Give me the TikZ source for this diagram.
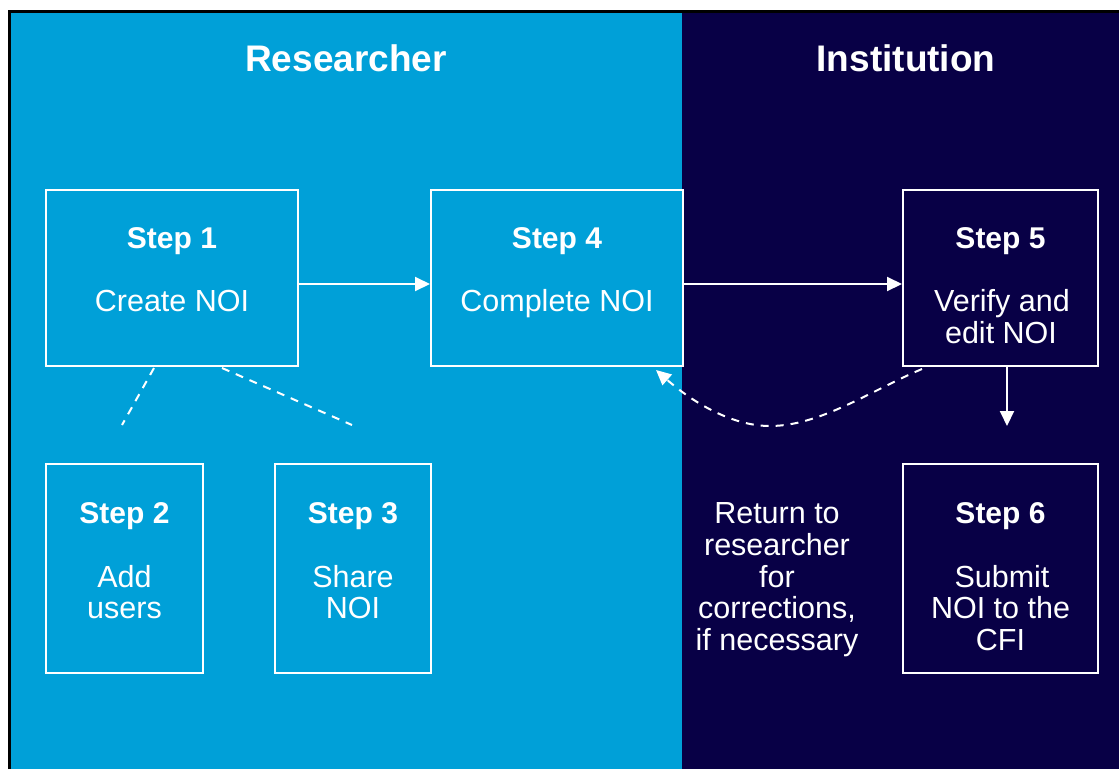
\documentclass[tikz,border=0pt]{standalone}
\usepackage{fontspec}
\setmainfont{Liberation Sans}
\usetikzlibrary{arrows.meta,calc}
\definecolor{resblue}{HTML}{00A0D8}
\definecolor{instnavy}{HTML}{080046}
\begin{document}
\begin{tikzpicture}[x=1pt,y=-1pt,
  box/.style={draw=white,line width=2pt,inner sep=0pt,rectangle},
  txt/.style={text=white,anchor=base,inner sep=0pt,font=\fontsize{30.5}{32}\selectfont},
  stp/.style={txt,font=\fontsize{30}{32}\selectfont\bfseries},
  ttl/.style={txt,font=\fontsize{37}{40}\selectfont\bfseries},
  conn/.style={draw=white,line width=2pt,-{Triangle[length=15pt,width=14pt]}},
  dashline/.style={draw=white,line width=2pt,dash pattern=on 8pt off 7pt}]
\useasboundingbox (0,0) rectangle (1119,769);
% backgrounds
\fill[resblue] (11,13) rectangle (682,769);
\fill[instnavy] (682,13) rectangle (1119,769);
\draw[black,line width=3pt] (9,769) -- (9,11) -- (1119,11);
% titles
\node[ttl] (tres) at (346,71) {Researcher};
\node[ttl] (tins) at (906,71) {Institution};
% boxes
\node[box,minimum width=252pt,minimum height=176pt] (s1) at (172,278) {};
\node[box,minimum width=252pt,minimum height=176pt] (s4) at (557,278) {};
\node[box,minimum width=195pt,minimum height=176pt] (s5) at (1000.5,278) {};
\node[box,minimum width=157pt,minimum height=209pt] (s2) at (124.5,568.5) {};
\node[box,minimum width=156pt,minimum height=209pt] (s3) at (353,568.5) {};
\node[box,minimum width=195pt,minimum height=209pt] (s6) at (1000.5,568.5) {};
% box texts
\node[stp] (s1a) at (172,248) {Step 1};
\node[txt] (s1b) at (172,311) {Create NOI};
\node[stp] (s4a) at (557,248) {Step 4};
\node[txt] (s4b) at (557,311) {Complete NOI};
\node[stp] (s5a) at (1000.5,248) {Step 5};
\node[txt] (s5b) at (1002,311) {Verify and};
\node[txt] (s5c) at (1001,343) {edit NOI};
\node[stp] (s2a) at (124.5,523) {Step 2};
\node[txt] (s2b) at (124.5,587) {Add};
\node[txt] (s2c) at (124.5,618) {users};
\node[stp] (s3a) at (353,523) {Step 3};
\node[txt] (s3b) at (353,587) {Share};
\node[txt] (s3c) at (353,618) {NOI};
\node[stp] (s6a) at (1000.5,523) {Step 6};
\node[txt] (s6b) at (1002,587) {Submit};
\node[txt] (s6c) at (1000.5,618) {NOI to the};
\node[txt] (s6d) at (1000.5,650) {CFI};
\node[txt] (r1) at (777,523) {Return to};
\node[txt] (r2) at (777,555) {researcher};
\node[txt] (r3) at (777,587) {for};
\node[txt] (r4) at (777,618) {corrections,};
\node[txt] (r5) at (777,650) {if necessary};
% connectors
\draw[conn] ([yshift=-6pt]s1.east) -- ([yshift=-6pt]s4.west);
\draw[conn] ([yshift=-6pt]s4.east) -- ([yshift=-6pt]s5.west);
\coordinate (d5) at (1007,426);
\draw[conn] ([xshift=6.5pt]s5.south) -- (d5);
\coordinate (e2) at (122,425);
\coordinate (e3) at (352,425);
\draw[dashline] ([xshift=-18pt,yshift=-1pt]s1.south) -- (e2);
\draw[dashline] ([xshift=50pt,yshift=-1pt]s1.south) -- (e3);
\coordinate (cb) at (770,426);
\draw[dashline,-{Triangle[length=15pt,width=14pt]}] ([xshift=20pt,yshift=-2pt]s5.south west) .. controls (870,391) and (820,426) .. (cb) .. controls (730,426) and (690,400) .. ([xshift=-28pt,yshift=-3pt]s4.south east);
\end{tikzpicture}
\end{document}
